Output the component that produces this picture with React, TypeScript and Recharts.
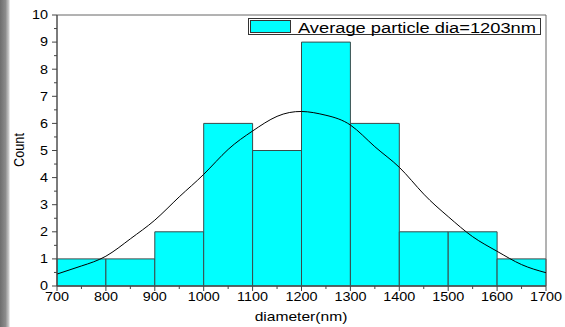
// Particle size histogram with fitted normal curve
import { ComposedChart, Line, XAxis, YAxis, ReferenceArea } from 'recharts';

const binEdges = [700, 800, 900, 1000, 1100, 1200, 1300, 1400, 1500, 1600, 1700];
const counts = [1, 1, 2, 6, 5, 9, 6, 2, 2, 1];

// fitted curve, every 50 nm
const fitX = [700, 750, 800, 850, 900, 950, 1000, 1050, 1100, 1150, 1200, 1250, 1300, 1350, 1400, 1450, 1500, 1550, 1600, 1650, 1700];
const fitY = [0.44, 0.74, 1.1, 1.74, 2.43, 3.29, 4.12, 5.04, 5.72, 6.26, 6.44, 6.3, 5.94, 5.14, 4.38, 3.39, 2.56, 1.82, 1.28, 0.79, 0.49];

const xTicks = [700, 750, 800, 850, 900, 950, 1000, 1050, 1100, 1150, 1200, 1250, 1300, 1350, 1400, 1450, 1500, 1550, 1600, 1650, 1700];
const yTicks = [0, 0.5, 1, 1.5, 2, 2.5, 3, 3.5, 4, 4.5, 5, 5.5, 6, 6.5, 7, 7.5, 8, 8.5, 9, 9.5, 10];

const legendLabel = 'Average particle dia=1203nm';
const xTitle = 'diameter(nm)';
const yTitle = 'Count';

const fitRows = fitX.map((x, i) => ({ x, fit: fitY[i] }));

const FONT = '"Liberation Sans", Arial, sans-serif';
const AXIS = '#444';

function XTick(props: any) {
  const { x, y, payload } = props;
  const major = payload.value % 100 === 0;
  return (
    <g>
      <line x1={x} x2={x} y1={y} y2={y + (major ? 5 : 3)} stroke={AXIS} />
      {major && (
        <text transform={`translate(${x},${y + 15}) scale(1.2,1)`} textAnchor="middle" fontSize={12} fontFamily={FONT} fill="#000">
          {payload.value}
        </text>
      )}
    </g>
  );
}

function YTick(props: any) {
  const { x, y, payload } = props;
  const major = payload.value % 1 === 0;
  return (
    <g>
      <line x1={x - (major ? 5 : 3)} x2={x} y1={y} y2={y} stroke={AXIS} />
      {major && (
        <text transform={`translate(${x - 9},${y + 4.3}) scale(1.2,1)`} textAnchor="end" fontSize={12} fontFamily={FONT} fill="#000">
          {payload.value}
        </text>
      )}
    </g>
  );
}

export default function App() {
  return (
    <div style={{ position: 'relative', width: 565, height: 327, background: '#fff', overflow: 'hidden' }}>
      <style>{`body{margin:0}`}</style>
      <div
        style={{
          position: 'absolute', left: 0, top: 0, width: 10, height: 327,
          background: 'linear-gradient(to right, #6e6e6e, #8c8c8c 55%, #cfcfcf 90%, #fff)',
        }}
      />
      <ComposedChart width={565} height={327} data={fitRows} margin={{ top: 15, right: 19, bottom: 0, left: 0 }}>
        <XAxis
          dataKey="x"
          type="number"
          domain={[700, 1700]}
          ticks={xTicks}
          interval={0}
          height={41}
          tickSize={0}
          tickMargin={0}
          tick={<XTick />}
          axisLine={{ stroke: AXIS }}
        />
        <YAxis
          type="number"
          domain={[0, 10]}
          ticks={yTicks}
          interval={0}
          width={57}
          tickSize={0}
          tickMargin={0}
          tick={<YTick />}
          axisLine={{ stroke: AXIS }}
        />
        {counts.map((c, i) => (
          <ReferenceArea
            key={i}
            x1={binEdges[i]}
            x2={binEdges[i + 1]}
            y1={0}
            y2={c}
            fill="#00FFFF"
            fillOpacity={1}
            stroke="#3a4a4a"
            strokeWidth={1}
          />
        ))}
        <ReferenceArea x1={700} x2={1700} y1={0} y2={10} fill="none" stroke="#666" strokeWidth={1} />
        <Line dataKey="fit" type="natural" stroke="#000" strokeWidth={1} dot={false} isAnimationActive={false} />
      </ComposedChart>
      <svg width={565} height={327} style={{ position: 'absolute', left: 0, top: 0, pointerEvents: 'none' }}>
        <text transform="translate(301,320.5) scale(1.2,1)" textAnchor="middle" fontSize={13} fontFamily={FONT} fill="#000">
          {xTitle}
        </text>
        <text transform="translate(24,150) scale(1.2,1) rotate(-90)" textAnchor="middle" fontSize={12.7} fontFamily={FONT} fill="#000">
          {yTitle}
        </text>
        <g transform="translate(248,18)">
          <rect x={0.5} y={0.5} width={292} height={16} fill="#fff" stroke="#333" />
          <rect x={2.5} y={2.5} width={40} height={12} fill="#00FFFF" stroke="#333" />
          <text x={50} y={15} fontSize={14} fontFamily={FONT} fill="#000" textLength={238} lengthAdjust="spacingAndGlyphs">
            {legendLabel}
          </text>
        </g>
      </svg>
    </div>
  );
}
